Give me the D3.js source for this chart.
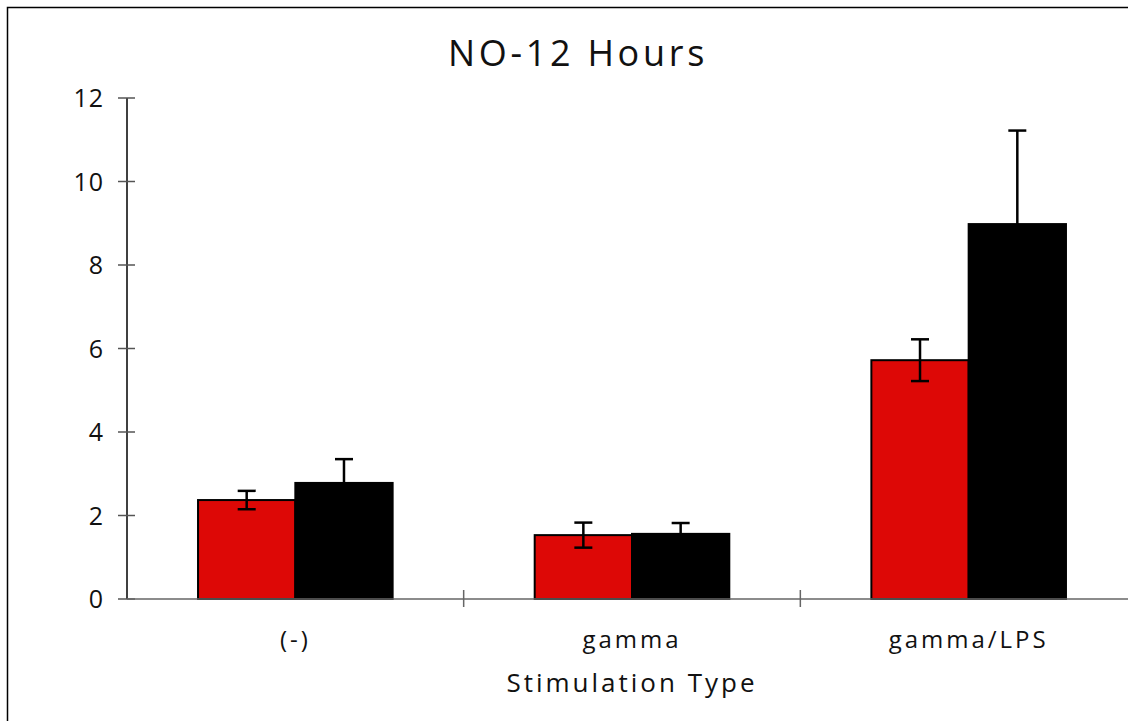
<!DOCTYPE html>
<html>
<head>
<meta charset="utf-8">
<script src="https://cdn.jsdelivr.net/npm/d3@7"></script>
<style>
  html, body { margin: 0; padding: 0; background: #fff; }
  svg { display: block; }
  text { font-family: "Open Sans", "DejaVu Sans", sans-serif; fill: #111; }
</style>
</head>
<body>
<div id="chart"></div>
<script>
// chart values
var categories = ["(-)", "gamma", "gamma/LPS"];
var seriesNames = ["A", "B"];
var redValues = [2.37, 1.53, 5.72];
var redErrors = [0.22, 0.30, 0.50];
var blackValues = [2.78, 1.56, 8.98];
var blackErrors = [0.57, 0.26, 2.24];
var yTicks = [0, 2, 4, 6, 8, 10, 12];

var W = 1128, H = 721;
var plotL = 127, plotR = 1137, plotT = 98, plotB = 599;

var svg = d3.select("#chart").append("svg")
    .attr("width", W)
    .attr("height", H);

// outer frame, cut off on the right and bottom like in the picture
svg.append("rect")
    .attr("x", 7.5).attr("y", 7.5)
    .attr("width", W + 20).attr("height", H + 20)
    .attr("fill", "none")
    .attr("stroke", "#000")
    .attr("stroke-width", 1.5);

var x0 = d3.scaleBand().domain(categories).range([plotL, plotR]).padding(0);
var x1 = d3.scaleBand().domain(seriesNames).range([0, x0.bandwidth()]).paddingOuter(0.73).paddingInner(0);
var y = d3.scaleLinear().domain([0, 12]).range([plotB, plotT]);

var flat = [];
categories.forEach(function(c, i) {
    flat.push({cat: c, s: "A", v: redValues[i], e: redErrors[i], color: "#dd0806"});
    flat.push({cat: c, s: "B", v: blackValues[i], e: blackErrors[i], color: "#000"});
});

// bars
svg.append("g").selectAll("rect")
    .data(flat)
    .join("rect")
    .attr("x", function(d) { return x0(d.cat) + x1(d.s); })
    .attr("y", function(d) { return y(d.v); })
    .attr("width", x1.bandwidth())
    .attr("height", function(d) { return y(0) - y(d.v); })
    .attr("fill", function(d) { return d.color; })
    .attr("stroke", "#000")
    .attr("stroke-width", 2);

// error bars
var eb = svg.append("g").attr("stroke", "#000").attr("stroke-width", 2.5);
flat.forEach(function(d) {
    var cx = x0(d.cat) + x1(d.s) + x1.bandwidth() / 2;
    eb.append("line").attr("x1", cx).attr("x2", cx)
        .attr("y1", y(d.v + d.e)).attr("y2", y(d.v - d.e));
    eb.append("line").attr("x1", cx - 9).attr("x2", cx + 9)
        .attr("y1", y(d.v + d.e)).attr("y2", y(d.v + d.e));
    if (d.s === "A") {
        eb.append("line").attr("x1", cx - 9).attr("x2", cx + 9)
            .attr("y1", y(d.v - d.e)).attr("y2", y(d.v - d.e));
    }
});

// y axis
var yAxis = svg.append("g");
yAxis.append("line")
    .attr("x1", plotL).attr("x2", plotL)
    .attr("y1", y(12)).attr("y2", y(0))
    .attr("stroke", "#000").attr("stroke-width", 1.5);
yAxis.selectAll("line.tick")
    .data(yTicks)
    .join("line")
    .attr("class", "tick")
    .attr("x1", plotL - 9).attr("x2", plotL + 8)
    .attr("y1", function(d) { return y(d); })
    .attr("y2", function(d) { return y(d); })
    .attr("stroke", "#555").attr("stroke-width", 1.5);
yAxis.selectAll("text")
    .data(yTicks)
    .join("text")
    .attr("x", 104)
    .attr("y", function(d) { return y(d); })
    .attr("dy", "0.36em")
    .attr("text-anchor", "end")
    .style("font-size", "25px")
    .style("letter-spacing", "1px")
    .text(function(d) { return d; });

// x axis
var xAxis = svg.append("g");
xAxis.append("line")
    .attr("x1", plotL).attr("x2", W)
    .attr("y1", y(0)).attr("y2", y(0))
    .attr("stroke", "#666").attr("stroke-width", 1.5);
xAxis.selectAll("line.tick")
    .data(categories.slice(1))
    .join("line")
    .attr("class", "tick")
    .attr("x1", function(d) { return x0(d); })
    .attr("x2", function(d) { return x0(d); })
    .attr("y1", y(0) - 9).attr("y2", y(0) + 8)
    .attr("stroke", "#666").attr("stroke-width", 1.5);
xAxis.selectAll("text")
    .data(categories)
    .join("text")
    .attr("x", function(d) { return x0(d) + x0.bandwidth() / 2; })
    .attr("y", 648)
    .attr("text-anchor", "middle")
    .style("font-size", "24px")
    .style("letter-spacing", "3px")
    .text(function(d) { return d; });

svg.append("text")
    .attr("x", 632).attr("y", 692)
    .attr("text-anchor", "middle")
    .style("font-size", "26px")
    .style("letter-spacing", "3px")
    .text("Stimulation Type");

svg.append("text")
    .attr("x", 578).attr("y", 66)
    .attr("text-anchor", "middle")
    .style("font-size", "36px")
    .style("letter-spacing", "3.7px")
    .text("NO-12 Hours");
</script>
</body>
</html>
